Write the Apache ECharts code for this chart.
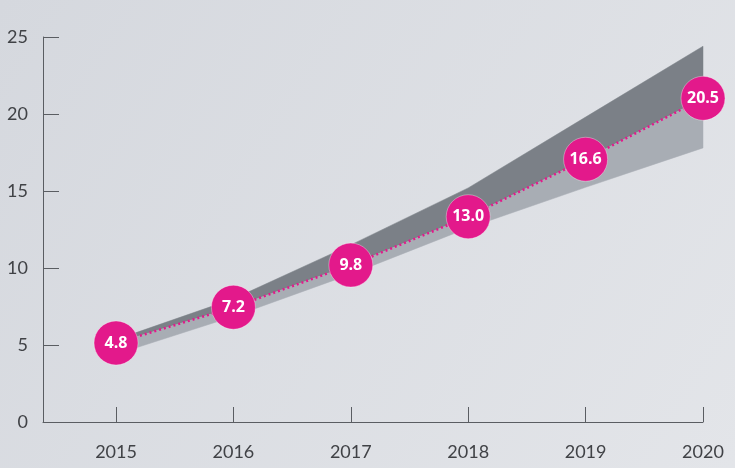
<!DOCTYPE html>
<html>
<head>
<meta charset="utf-8">
<script src="https://cdn.jsdelivr.net/npm/echarts@6/dist/echarts.min.js"></script>
<style>
html,body{margin:0;padding:0;}
#chart{width:735px;height:468px;}
</style>
</head>
<body>
<div id="chart"></div>
<script>
var years = [2015, 2016, 2017, 2018, 2019, 2020];
var forecastLabels = ['4.8', '7.2', '9.8', '13.0', '16.6', '20.5'];
var forecastLine = [5.13, 7.45, 10.19, 13.33, 17.06, 21.02];
var upperBound = [5.35, 8.0, 11.5, 15.2, 19.8, 24.4];
var lowerBound = [4.4, 6.85, 9.6, 12.6, 15.24, 17.8];
var yTicks = [0, 5, 10, 15, 20, 25];

var chart = echarts.init(document.getElementById('chart'));

function bandRender(topArr, botArr, color) {
  return function (params, api) {
    if (params.dataIndex !== 0) return null;
    var pts = [];
    for (var i = 0; i < years.length; i++) pts.push(api.coord([years[i], topArr[i]]));
    for (var j = years.length - 1; j >= 0; j--) pts.push(api.coord([years[j], botArr[j]]));
    return {
      type: 'polygon',
      shape: { points: pts },
      style: { fill: color, stroke: color, lineWidth: 0.5 }
    };
  };
}

var lineData = years.map(function (y, i) { return [y, forecastLine[i]]; });

chart.setOption({
  backgroundColor: {
    type: 'linear', x: 0, y: 0, x2: 1, y2: 1,
    colorStops: [{ offset: 0, color: '#d5d8de' }, { offset: 1, color: '#e3e5e9' }]
  },
  animation: false,
  grid: { left: 43, right: 32, top: 37, bottom: 46 },
  xAxis: {
    type: 'value',
    min: 2014.378,
    max: 2020,
    splitLine: { show: false },
    axisLine: { show: true, lineStyle: { color: '#5a5d62', width: 1 } },
    axisTick: { show: true, inside: true, length: 15, customValues: years, lineStyle: { color: '#5a5d62' } },
    axisLabel: {
      customValues: years,
      formatter: function (v) { return String(Math.round(v)); },
      color: '#404246', fontSize: 18, fontFamily: 'Lato', margin: 21
    }
  },
  yAxis: {
    type: 'value',
    min: 0, max: 25, interval: 5,
    splitLine: { show: false },
    axisLine: { show: true, lineStyle: { color: '#5a5d62', width: 1 } },
    axisTick: { show: true, inside: true, length: 16, lineStyle: { color: '#5a5d62' } },
    axisLabel: { color: '#404246', fontSize: 18, fontFamily: 'Lato', margin: 15 }
  },
  series: [
    {
      type: 'custom',
      renderItem: bandRender(upperBound, forecastLine, '#7b8087'),
      data: years.map(function (y, i) { return [y, upperBound[i]]; }),
      z: 1, silent: true
    },
    {
      type: 'custom',
      renderItem: bandRender(forecastLine, lowerBound, '#a8adb4'),
      data: years.map(function (y, i) { return [y, lowerBound[i]]; }),
      z: 1, silent: true
    },
    {
      type: 'line',
      data: lineData,
      z: 5,
      symbol: 'circle',
      symbolSize: 44,
      lineStyle: { color: '#e3198b', width: 2.5, type: [2, 3] },
      itemStyle: { color: '#e3198b', borderColor: 'rgba(255,255,255,0.35)', borderWidth: 1 },
      label: {
        show: true,
        position: 'inside',
        formatter: function (p) { return forecastLabels[p.dataIndex]; },
        color: '#ffffff', fontSize: 16, fontWeight: 'bold', fontFamily: 'Open Sans'
      }
    }
  ]
});
</script>
</body>
</html>
